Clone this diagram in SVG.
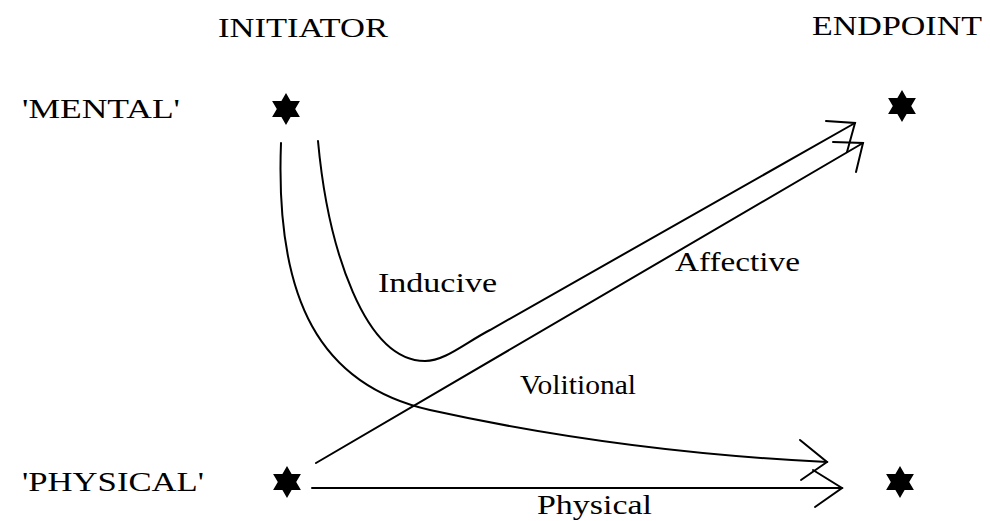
<svg xmlns="http://www.w3.org/2000/svg" width="990" height="521" viewBox="0 0 990 521">
<style>
text{font-family:"Liberation Serif","Times New Roman",serif;fill:#000;font-size:27px}
.ln{fill:none;stroke:#000;stroke-width:2;stroke-linecap:round;stroke-linejoin:miter}
</style>
<defs>
<path id="star" d="M0,-16 L4.6,-8 L13.9,-8 L9.2,0 L13.9,8 L4.6,8 L0,16 L-4.6,8 L-13.9,8 L-9.2,0 L-13.9,-8 L-4.6,-8 Z" fill="#000"/>
</defs>
<rect width="990" height="521" fill="#fff"/>
<g id="headers">
<text x="218" y="37" textLength="170" lengthAdjust="spacingAndGlyphs">INITIATOR</text>
<text x="812" y="35" textLength="170" lengthAdjust="spacingAndGlyphs">ENDPOINT</text>
</g>
<g id="mental">
<text x="22" y="118" textLength="158" lengthAdjust="spacingAndGlyphs">'MENTAL'</text>
<use href="#star" x="286" y="109"/>
</g>
<g id="physical-initiator">
<text x="22" y="491" textLength="182" lengthAdjust="spacingAndGlyphs">'PHYSICAL'</text>
<use href="#star" x="287" y="482"/>
</g>
<g id="endpoint-mental"><use href="#star" x="902" y="106"/></g>
<g id="endpoint-physical"><use href="#star" x="900" y="482"/></g>
<g id="connectors">
<path class="ln" d="M281,143 C275,300 320,385 430,410 Q620,452 827,462"/>
<path class="ln" d="M800,440 L827,462 L801,480"/>
<path class="ln" d="M318,141 C328,250 365,361 425,361 C445,361 465,343 490,330 L855,123"/>
<path class="ln" d="M826,121 L855,123 L847,152"/>
<path class="ln" d="M316,463 L863,143"/>
<path class="ln" d="M833,142 L863,143 L856,172"/>
<path class="ln" d="M312,488 L842,488"/>
<path class="ln" d="M813,470 L842,488 L815,507"/>
</g>
<g id="labels">
<text x="378" y="292" textLength="119" lengthAdjust="spacingAndGlyphs">Inducive</text>
<text x="675" y="271" textLength="125" lengthAdjust="spacingAndGlyphs">Affective</text>
<text x="520" y="394" textLength="116" lengthAdjust="spacingAndGlyphs">Volitional</text>
<text x="537" y="514" textLength="115" lengthAdjust="spacingAndGlyphs">Physical</text>
</g>
</svg>
